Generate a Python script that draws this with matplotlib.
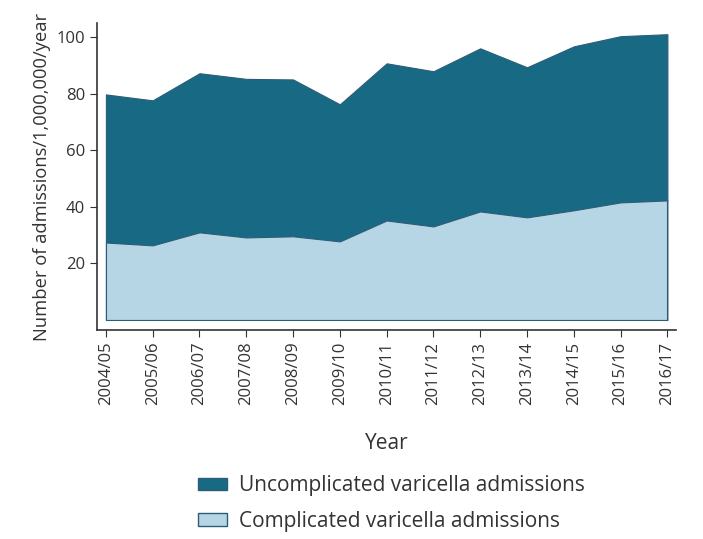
import numpy as np
import matplotlib.pyplot as plt
from matplotlib.patches import Patch

plt.rcParams['font.family'] = ['Open Sans', 'DejaVu Sans']

seasons = ['2004/05', '2005/06', '2006/07', '2007/08', '2008/09', '2009/10', '2010/11',
           '2011/12', '2012/13', '2013/14', '2014/15', '2015/16', '2016/17']
complicated = [27.4, 26.4, 31.0, 29.2, 29.6, 27.8, 35.2, 33.1, 38.4, 36.3, 38.8, 41.6, 42.3]
total = [79.8, 77.7, 87.3, 85.3, 85.1, 76.3, 90.8, 88.0, 96.1, 89.4, 96.8, 100.4, 101.1]

dark = '#186a84'
light = '#b6d5e5'
edge = '#2c5d78'
text_col = '#333333'

x = np.arange(len(seasons))

fig = plt.figure(figsize=(7.03, 5.39), dpi=100)
ax = fig.add_axes([0.138, 0.388, 0.824, 0.569])

ax.fill_between(x, complicated, total, facecolor=dark, edgecolor=edge, lw=0.8)
ax.fill_between(x, 0, complicated, facecolor=light, edgecolor=edge, lw=0.8)
# side edges of the lower area
ax.plot([x[0], x[0]], [0, complicated[0]], color=edge, lw=0.8)
ax.plot([x[-1], x[-1]], [0, complicated[-1]], color=edge, lw=0.8)

ax.set_xlim(-0.19, 12.19)
ax.set_ylim(-3.5, 105)
ax.set_xticks(x)
ax.set_xticklabels(seasons, rotation=90, fontsize=12, color=text_col)
ax.set_yticks([20, 40, 60, 80, 100])
ax.tick_params(axis='y', labelsize=12, labelcolor=text_col, length=5, color=text_col)
ax.tick_params(axis='x', length=5, color=text_col)
for s in ['top', 'right']:
    ax.spines[s].set_visible(False)
for s in ['left', 'bottom']:
    ax.spines[s].set_color(text_col)
    ax.spines[s].set_linewidth(1.2)

ax.set_ylabel('Number of admissions/1,000,000/year', fontsize=13.2, color=text_col)
ax.set_xlabel('Year', fontsize=15, color=text_col, labelpad=20)

handles = [Patch(facecolor=dark, edgecolor=edge, label='Uncomplicated varicella admissions'),
           Patch(facecolor=light, edgecolor=edge, label='Complicated varicella admissions')]
fig.legend(handles=handles, loc='upper left', bbox_to_anchor=(0.282, 0.118), frameon=False,
           fontsize=15, labelcolor=text_col, handlelength=1.4, handleheight=0.55,
           handletextpad=0.55, labelspacing=0.7, borderpad=0, borderaxespad=0)

fig.savefig('out.png', dpi=100)
